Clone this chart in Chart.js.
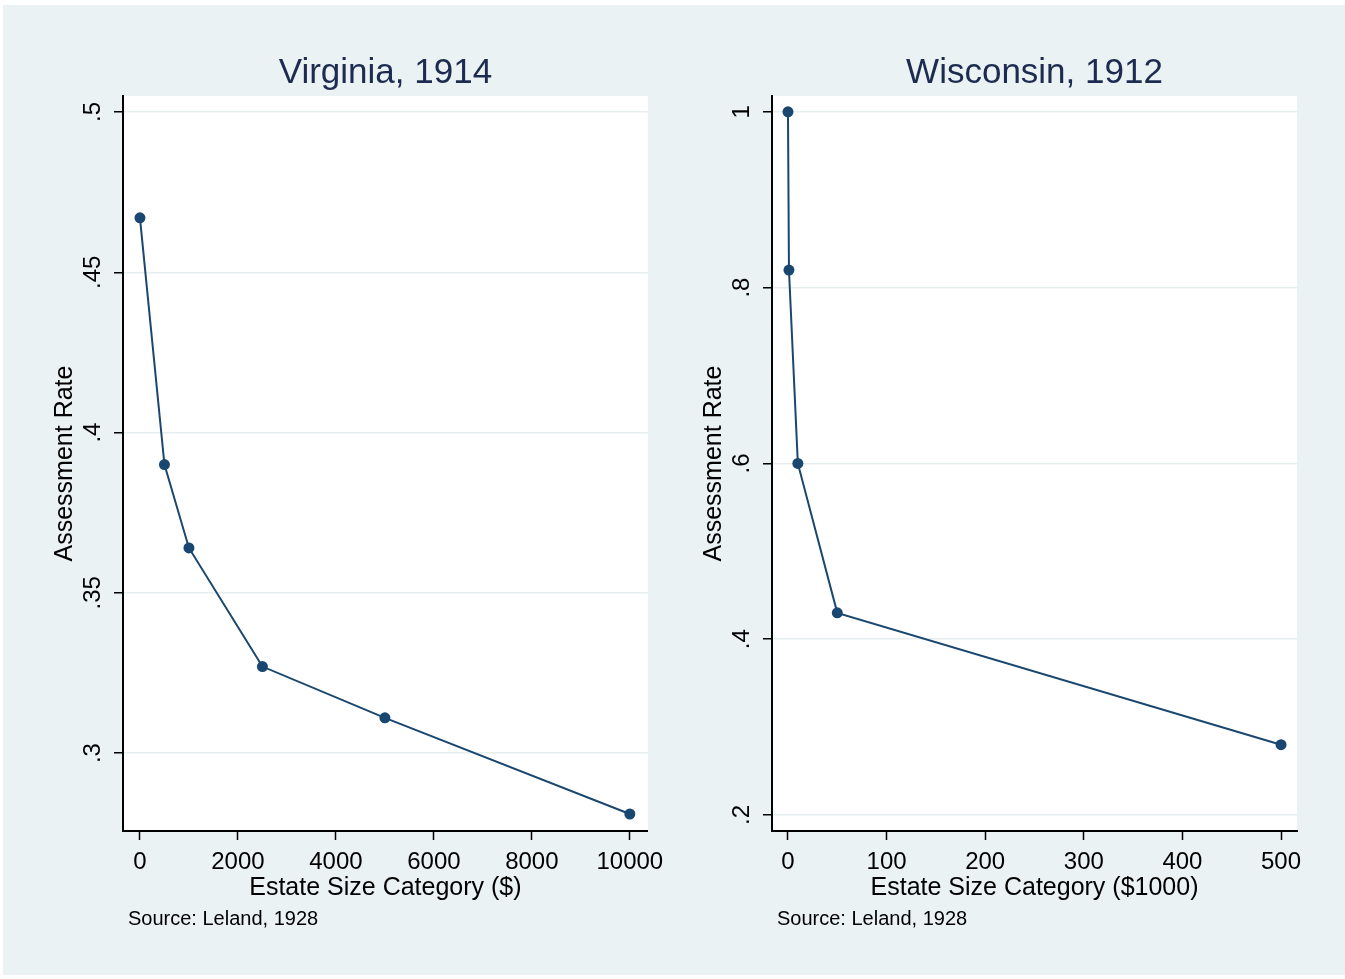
<!DOCTYPE html>
<html>
<head>
<meta charset="utf-8">
<script src="https://cdn.jsdelivr.net/npm/chart.js@4"></script>
<style>
    body { margin: 0; background: #ffffff; }
    #graphRegion { position: absolute; left: 3px; top: 5px; width: 1342px; height: 970px; background: #eaf2f3; }
    canvas { position: absolute; top: 0; }
    #virginia { left: 0; }
    #wisconsin { left: 672px; }
</style>
</head>
<body>
<div id="graphRegion"></div>
<canvas id="virginia" width="672" height="979"></canvas>
<canvas id="wisconsin" width="673" height="979"></canvas>
<script>
// Virginia, 1914 (estate size in $)
const virginiaSize = [0, 500, 1000, 2500, 5000, 10000];
const virginiaRate = [0.467, 0.39, 0.364, 0.327, 0.311, 0.281];
const virginiaXTicks = [0, 2000, 4000, 6000, 8000, 10000];
const virginiaYTicks = [0.3, 0.35, 0.4, 0.45, 0.5];

// Wisconsin, 1912 (estate size in $1000)
const wisconsinSize = [0, 1, 10, 50, 500];
const wisconsinRate = [1.0, 0.82, 0.6, 0.43, 0.28];
const wisconsinXTicks = [0, 100, 200, 300, 400, 500];
const wisconsinYTicks = [0.2, 0.4, 0.6, 0.8, 1];

const FONT = '"Liberation Sans", Arial, sans-serif';
const NAVY = "#1a476f";

// stata style labels: .5 instead of 0.5
function stataLabel(v) {
    return String(+v.toFixed(2)).replace(/^0\./, ".");
}

// white plot region behind everything
const plotRegion = {
    id: "plotRegion",
    beforeDraw(chart) {
        const a = chart.chartArea;
        chart.ctx.save();
        chart.ctx.fillStyle = "#ffffff";
        chart.ctx.fillRect(a.left, a.top, a.right - a.left, a.bottom - a.top);
        chart.ctx.restore();
    }
};

// draws titles, rotated y labels and the source note
const stataText = {
    id: "stataText",
    afterDraw(chart, args, opts) {
        const ctx = chart.ctx;
        const area = chart.chartArea;
        const yScale = chart.scales.y;
        const midX = (area.left + area.right) / 2;
        ctx.save();
        ctx.textAlign = "center";
        ctx.textBaseline = "middle";

        ctx.fillStyle = "#1c2b4f";
        ctx.font = "35px " + FONT;
        ctx.fillText(opts.title, midX, 73);

        ctx.fillStyle = "#000";
        ctx.font = "24px " + FONT;
        yScale.ticks.forEach(function (t) {
            const py = yScale.getPixelForValue(t.value);
            ctx.save();
            ctx.translate(area.left - 30, py);
            ctx.rotate(-Math.PI / 2);
            ctx.fillText(stataLabel(t.value), 0, 0);
            ctx.restore();
        });

        ctx.font = "25px " + FONT;
        ctx.save();
        ctx.translate(area.left - 58, (area.top + area.bottom) / 2);
        ctx.rotate(-Math.PI / 2);
        ctx.fillText(opts.yTitle, 0, 0);
        ctx.restore();

        ctx.fillText(opts.xTitle, midX, 888);

        ctx.font = "20px " + FONT;
        ctx.textAlign = "left";
        ctx.fillText(opts.source, area.left + 5, 919);
        ctx.restore();
    }
};

function makePanel(canvasId, xs, ys, xTicks, yTicks, xMin, xMax, yMin, yMax, padLeft, padRight, texts) {
    const ctx = document.getElementById(canvasId).getContext("2d");
    return new Chart(ctx, {
        type: "scatter",
        data: {
            datasets: [{
                data: xs.map((x, i) => ({ x: x, y: ys[i] })),
                showLine: true,
                borderColor: NAVY,
                borderWidth: 2,
                backgroundColor: NAVY,
                pointRadius: 5.5,
                pointBorderWidth: 0
            }]
        },
        options: {
            responsive: false,
            animation: false,
            layout: { padding: { left: padLeft, right: padRight, top: 96, bottom: 108 } },
            plugins: {
                legend: { display: false },
                tooltip: { enabled: false },
                stataText: texts
            },
            scales: {
                x: {
                    type: "linear",
                    position: "bottom",
                    min: xMin,
                    max: xMax,
                    afterBuildTicks: s => { s.ticks = xTicks.map(v => ({ value: v })); },
                    afterFit: s => { s.height = 40; },
                    grid: { drawOnChartArea: false, tickLength: 9, tickColor: "#000", tickWidth: 1.5 },
                    border: { color: "#000", width: 2 },
                    ticks: {
                        color: "#000",
                        font: { family: FONT, size: 24 },
                        padding: 8,
                        maxRotation: 0,
                        autoSkip: false,
                        callback: v => String(v)
                    }
                },
                y: {
                    type: "linear",
                    min: yMin,
                    max: yMax,
                    afterBuildTicks: s => { s.ticks = yTicks.map(v => ({ value: v })); },
                    afterFit: s => { s.width = 40; },
                    grid: { color: "#e6eef0", lineWidth: 1.5, tickLength: 9, tickColor: "#000", tickWidth: 1.5 },
                    border: { color: "#000", width: 2 },
                    ticks: { display: false }
                }
            }
        },
        plugins: [plotRegion, stataText]
    });
}

// Virginia Chart
makePanel("virginia", virginiaSize, virginiaRate, virginiaXTicks, virginiaYTicks,
    -346, 10367, 0.2757, 0.505, 83, 23, {
        title: "Virginia, 1914",
        yTitle: "Assessment Rate",
        xTitle: "Estate Size Category ($)",
        source: "Source: Leland, 1928"
    });

// Wisconsin Chart
makePanel("wisconsin", wisconsinSize, wisconsinRate, wisconsinXTicks, wisconsinYTicks,
    -16.2, 516.2, 0.1818, 1.018, 60, 48, {
        title: "Wisconsin, 1912",
        yTitle: "Assessment Rate",
        xTitle: "Estate Size Category ($1000)",
        source: "Source: Leland, 1928"
    });
</script>
</body>
</html>
